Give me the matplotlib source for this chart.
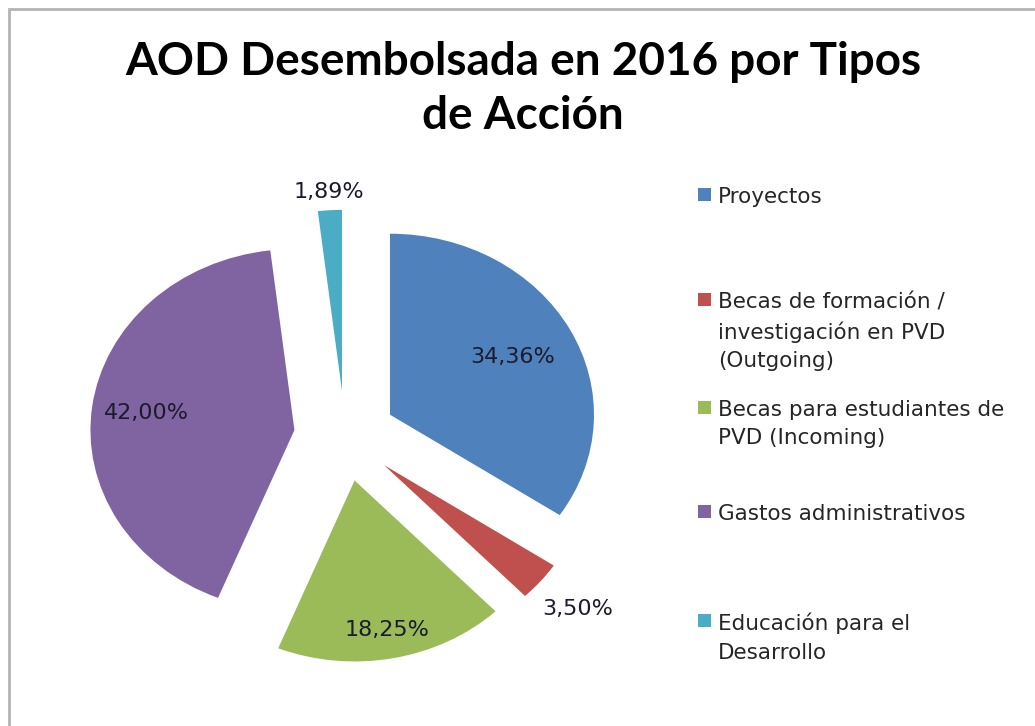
import matplotlib
matplotlib.use("Agg")
import matplotlib.pyplot as plt
from matplotlib.patches import Rectangle
import numpy as np

# ---------------- data ----------------
categories = [
    "Proyectos",
    "Becas de formación /\ninvestigación en PVD\n(Outgoing)",
    "Becas para estudiantes de\nPVD (Incoming)",
    "Gastos administrativos",
    "Educación para el\nDesarrollo",
]
shares = [34.36, 3.50, 18.25, 42.00, 1.89]
title_text = "AOD Desembolsada en 2016 por Tipos\nde Acción"

# ---------------- style ----------------
colors = ["#4F81BD", "#C0504D", "#9BBB59", "#8064A2", "#4BACC6"]
explode = [0.25, 0.25, 0.25, 0.25, 0.25]
label_dist = [0.68, 1.24, 0.84, 0.73, 1.10]
legend_rows_px = [195, 300, 408, 512, 621]

plt.rcParams["font.family"] = ["DejaVu Sans"]

W, H = 1035, 726
fig = plt.figure(figsize=(W / 100, H / 100), dpi=100)
fig.patch.set_facecolor("white")


def px_box(l, t, r, b):
    return [l / W, 1 - b / H, (r - l) / W, (b - t) / H]


# outer chart border
fig.add_artist(Rectangle((9 / W, -0.1), 1.2, (1 - 9 / H) + 0.1,
                         transform=fig.transFigure, fill=False,
                         edgecolor="#b4b4b4", linewidth=2))

# title
fig.text(523 / W, 1 - 89 / H, title_text, ha="center", va="center",
         fontsize=33, fontweight="bold", family=["Lato", "DejaVu Sans"],
         color="black", linespacing=1.38)

# pie
ax = fig.add_axes(px_box(80, 170, 620, 680))
wedges, _ = ax.pie(shares, colors=colors, explode=explode, startangle=90,
                   counterclock=False, radius=1,
                   wedgeprops=dict(linewidth=0))
ax.set_aspect("auto")
ax.set_xlim(-1.299, 1.348)
ax.set_ylim(-1.348, 1.470)

for w, v, d in zip(wedges, shares, label_dist):
    ang = np.deg2rad((w.theta1 + w.theta2) / 2)
    cx, cy = w.center
    ax.text(cx + d * np.cos(ang), cy + d * np.sin(ang),
            f"{v:.2f}%".replace(".", ","), ha="center", va="center",
            fontsize=16, color="#1b1b2b")

# legend (drawn entry by entry to keep the original uneven spacing)
for w, lab, ypx in zip(wedges, categories, legend_rows_px):
    fig.add_artist(Rectangle((698 / W, 1 - (ypx + 6) / H), 13 / W, 13 / H,
                             transform=fig.transFigure,
                             facecolor=w.get_facecolor(), edgecolor="none"))
    fig.text(718 / W, 1 - (ypx - 8) / H, lab, ha="left", va="top",
             fontsize=15.5, color="#262626", linespacing=1.53)

fig.savefig("out.png", dpi=100, facecolor="white")
